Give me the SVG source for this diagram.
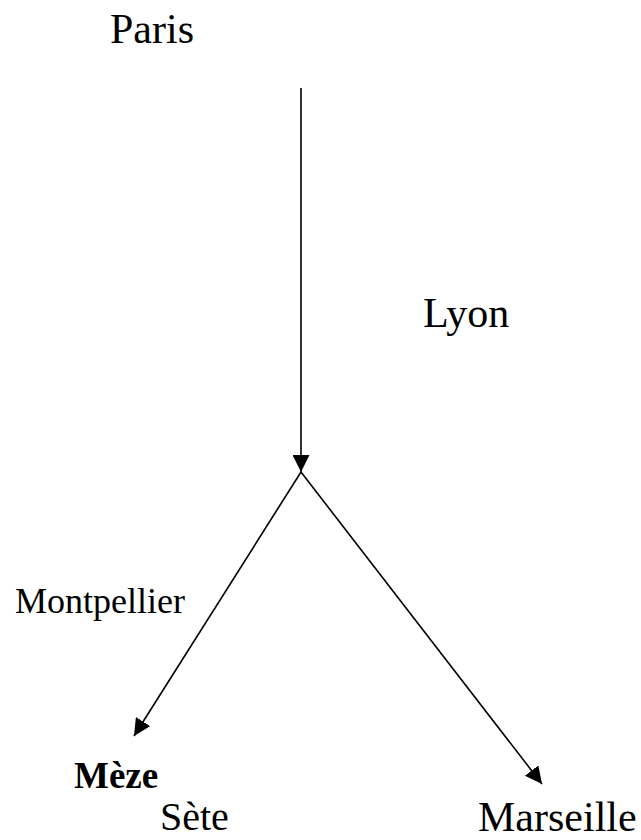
<svg xmlns="http://www.w3.org/2000/svg" width="641" height="840" viewBox="0 0 641 840">
<style>
text{font-family:"Liberation Serif","Times New Roman",serif;fill:#000}
.c line{stroke:#000;stroke-width:1.6}
</style>
<defs>
<marker id="ah" markerUnits="userSpaceOnUse" markerWidth="17" markerHeight="17" viewBox="0 0 17 17" refX="17" refY="8.5" orient="auto">
<path d="M0,0 L17,8.5 L0,17 Z" fill="#000"/>
</marker>
</defs>
<rect width="641" height="840" fill="#fff"/>
<g id="connectors" class="c">
<line x1="301" y1="88" x2="301" y2="472" marker-end="url(#ah)"/>
<line x1="301" y1="472" x2="134" y2="736" marker-end="url(#ah)"/>
<line x1="301" y1="472" x2="542" y2="784" marker-end="url(#ah)"/>
</g>
<g id="paris"><text x="110" y="43" font-size="42">Paris</text></g>
<g id="lyon"><text x="423" y="327" font-size="42">Lyon</text></g>
<g id="montpellier"><text x="15" y="613" font-size="36">Montpellier</text></g>
<g id="meze"><text x="74" y="788" font-size="37" font-weight="bold">Mèze</text></g>
<g id="sete"><text x="160" y="830" font-size="40">Sète</text></g>
<g id="marseille"><text x="478" y="831" font-size="42">Marseille</text></g>
</svg>
